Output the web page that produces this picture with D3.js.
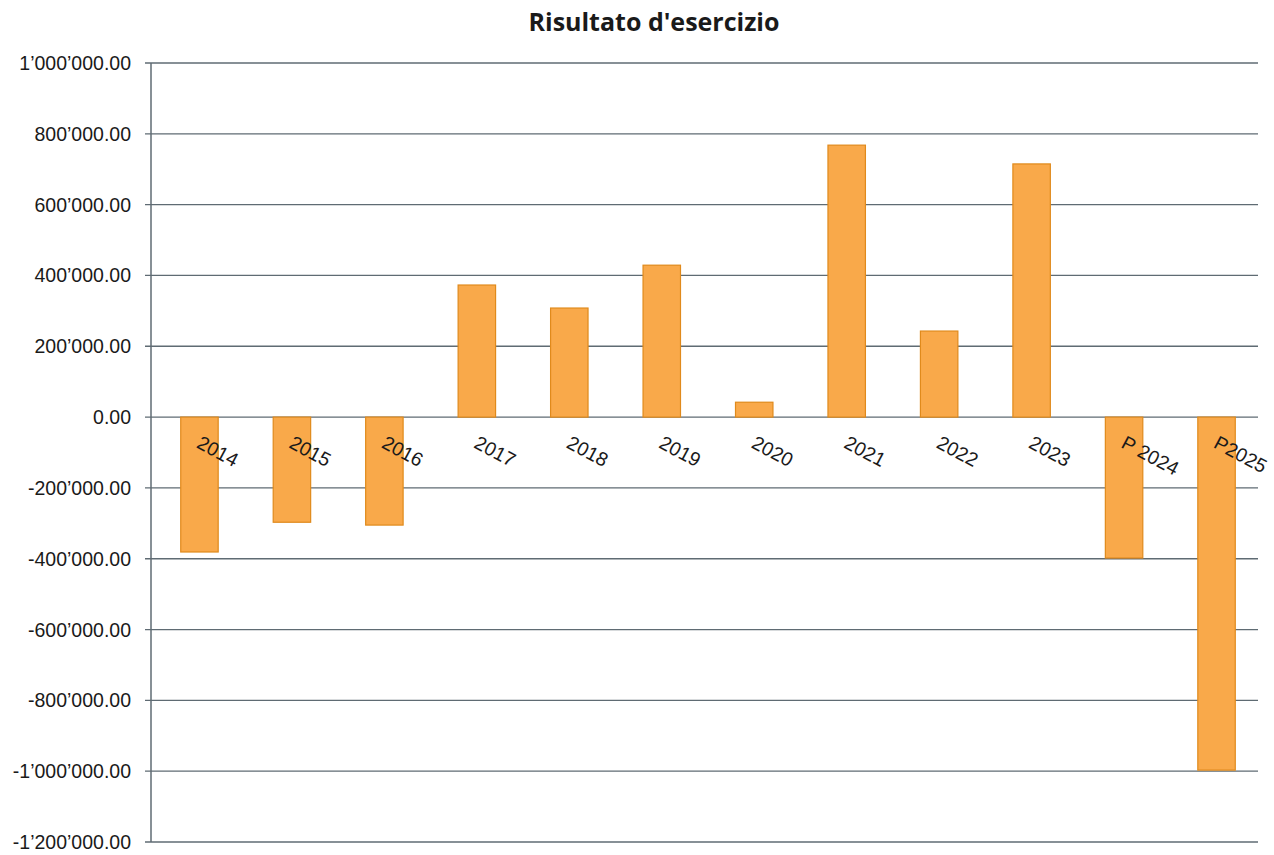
<!DOCTYPE html>
<html>
<head>
<meta charset="utf-8">
<script src="https://cdn.jsdelivr.net/npm/d3@7"></script>
<style>
  body { margin: 0; background: #fff; }
  text { font-family: "Liberation Sans", Arial, sans-serif; }
</style>
</head>
<body>
<script>
var categories = ["2014", "2015", "2016", "2017", "2018", "2019", "2020", "2021", "2022", "2023", "P 2024", "P2025"];
var values = [-381000, -297000, -305000, 373000, 308000, 429000, 42000, 768000, 243000, 715000, -398000, -997000];
var yTicks = [1000000, 800000, 600000, 400000, 200000, 0, -200000, -400000, -600000, -800000, -1000000, -1200000];

var width = 1274, height = 855;
// note: "top" is taken by window.top, so plot edges get their own names
var plotLeft = 151, plotRight = 1258, plotTop = 63, plotBottom = 842;

var svg = d3.select("body").append("svg")
  .attr("width", width)
  .attr("height", height);

var x = d3.scaleBand()
  .domain(categories)
  .range([plotLeft + 2, plotRight + 5])
  .paddingInner(0.595)
  .paddingOuter(0.3);

var y = d3.scaleLinear()
  .domain([-1200000, 1000000])
  .range([plotBottom, plotTop]);

// number format like 1'000'000.00
function fmt(v) {
  return d3.format(",.2f")(v).replace(/,/g, "\u2019").replace("\u2212", "-");
}

// gridlines
svg.append("g").selectAll("line")
  .data(yTicks)
  .enter().append("line")
  .attr("x1", plotLeft - 6)
  .attr("x2", plotRight)
  .attr("y1", function(d){ return y(d); })
  .attr("y2", function(d){ return y(d); })
  .attr("stroke", "#5f6b73")
  .attr("stroke-width", 1.3);

// y axis line
svg.append("line")
  .attr("x1", plotLeft).attr("x2", plotLeft)
  .attr("y1", y(1000000)).attr("y2", y(-1200000))
  .attr("stroke", "#5f6b73")
  .attr("stroke-width", 1.5);

// tick labels
svg.append("g").selectAll("text")
  .data(yTicks)
  .enter().append("text")
  .attr("x", 131)
  .attr("y", function(d){ return y(d) + 7; })
  .attr("text-anchor", "end")
  .attr("font-size", 19.5)
  .attr("fill", "#1a1a1a")
  .text(fmt);

// bars
svg.append("g").selectAll("rect")
  .data(values)
  .enter().append("rect")
  .attr("x", function(d, i){ return x(categories[i]); })
  .attr("width", x.bandwidth())
  .attr("y", function(d){ return y(Math.max(0, d)); })
  .attr("height", function(d){ return Math.abs(y(d) - y(0)); })
  .attr("fill", "#f9a94a")
  .attr("stroke", "#e08a1c")
  .attr("stroke-width", 1.2);

// category labels, rotated
svg.append("g").selectAll("text")
  .data(categories)
  .enter().append("text")
  .attr("transform", function(d){
    var cx = x(d) + x.bandwidth() / 2 - 4;
    return "translate(" + cx + "," + (y(0) + 30) + ") rotate(28)";
  })
  .attr("font-size", 19.5)
  .attr("fill", "#1a1a1a")
  .text(function(d){ return d; });

// title
svg.append("text")
  .attr("x", 654)
  .attr("y", 31)
  .attr("text-anchor", "middle")
  .style("font-family", "'Open Sans', sans-serif")
  .attr("font-size", 25)
  .attr("font-weight", "bold")
  .attr("fill", "#1a1a1a")
  .text("Risultato d'esercizio");
</script>
</body>
</html>
